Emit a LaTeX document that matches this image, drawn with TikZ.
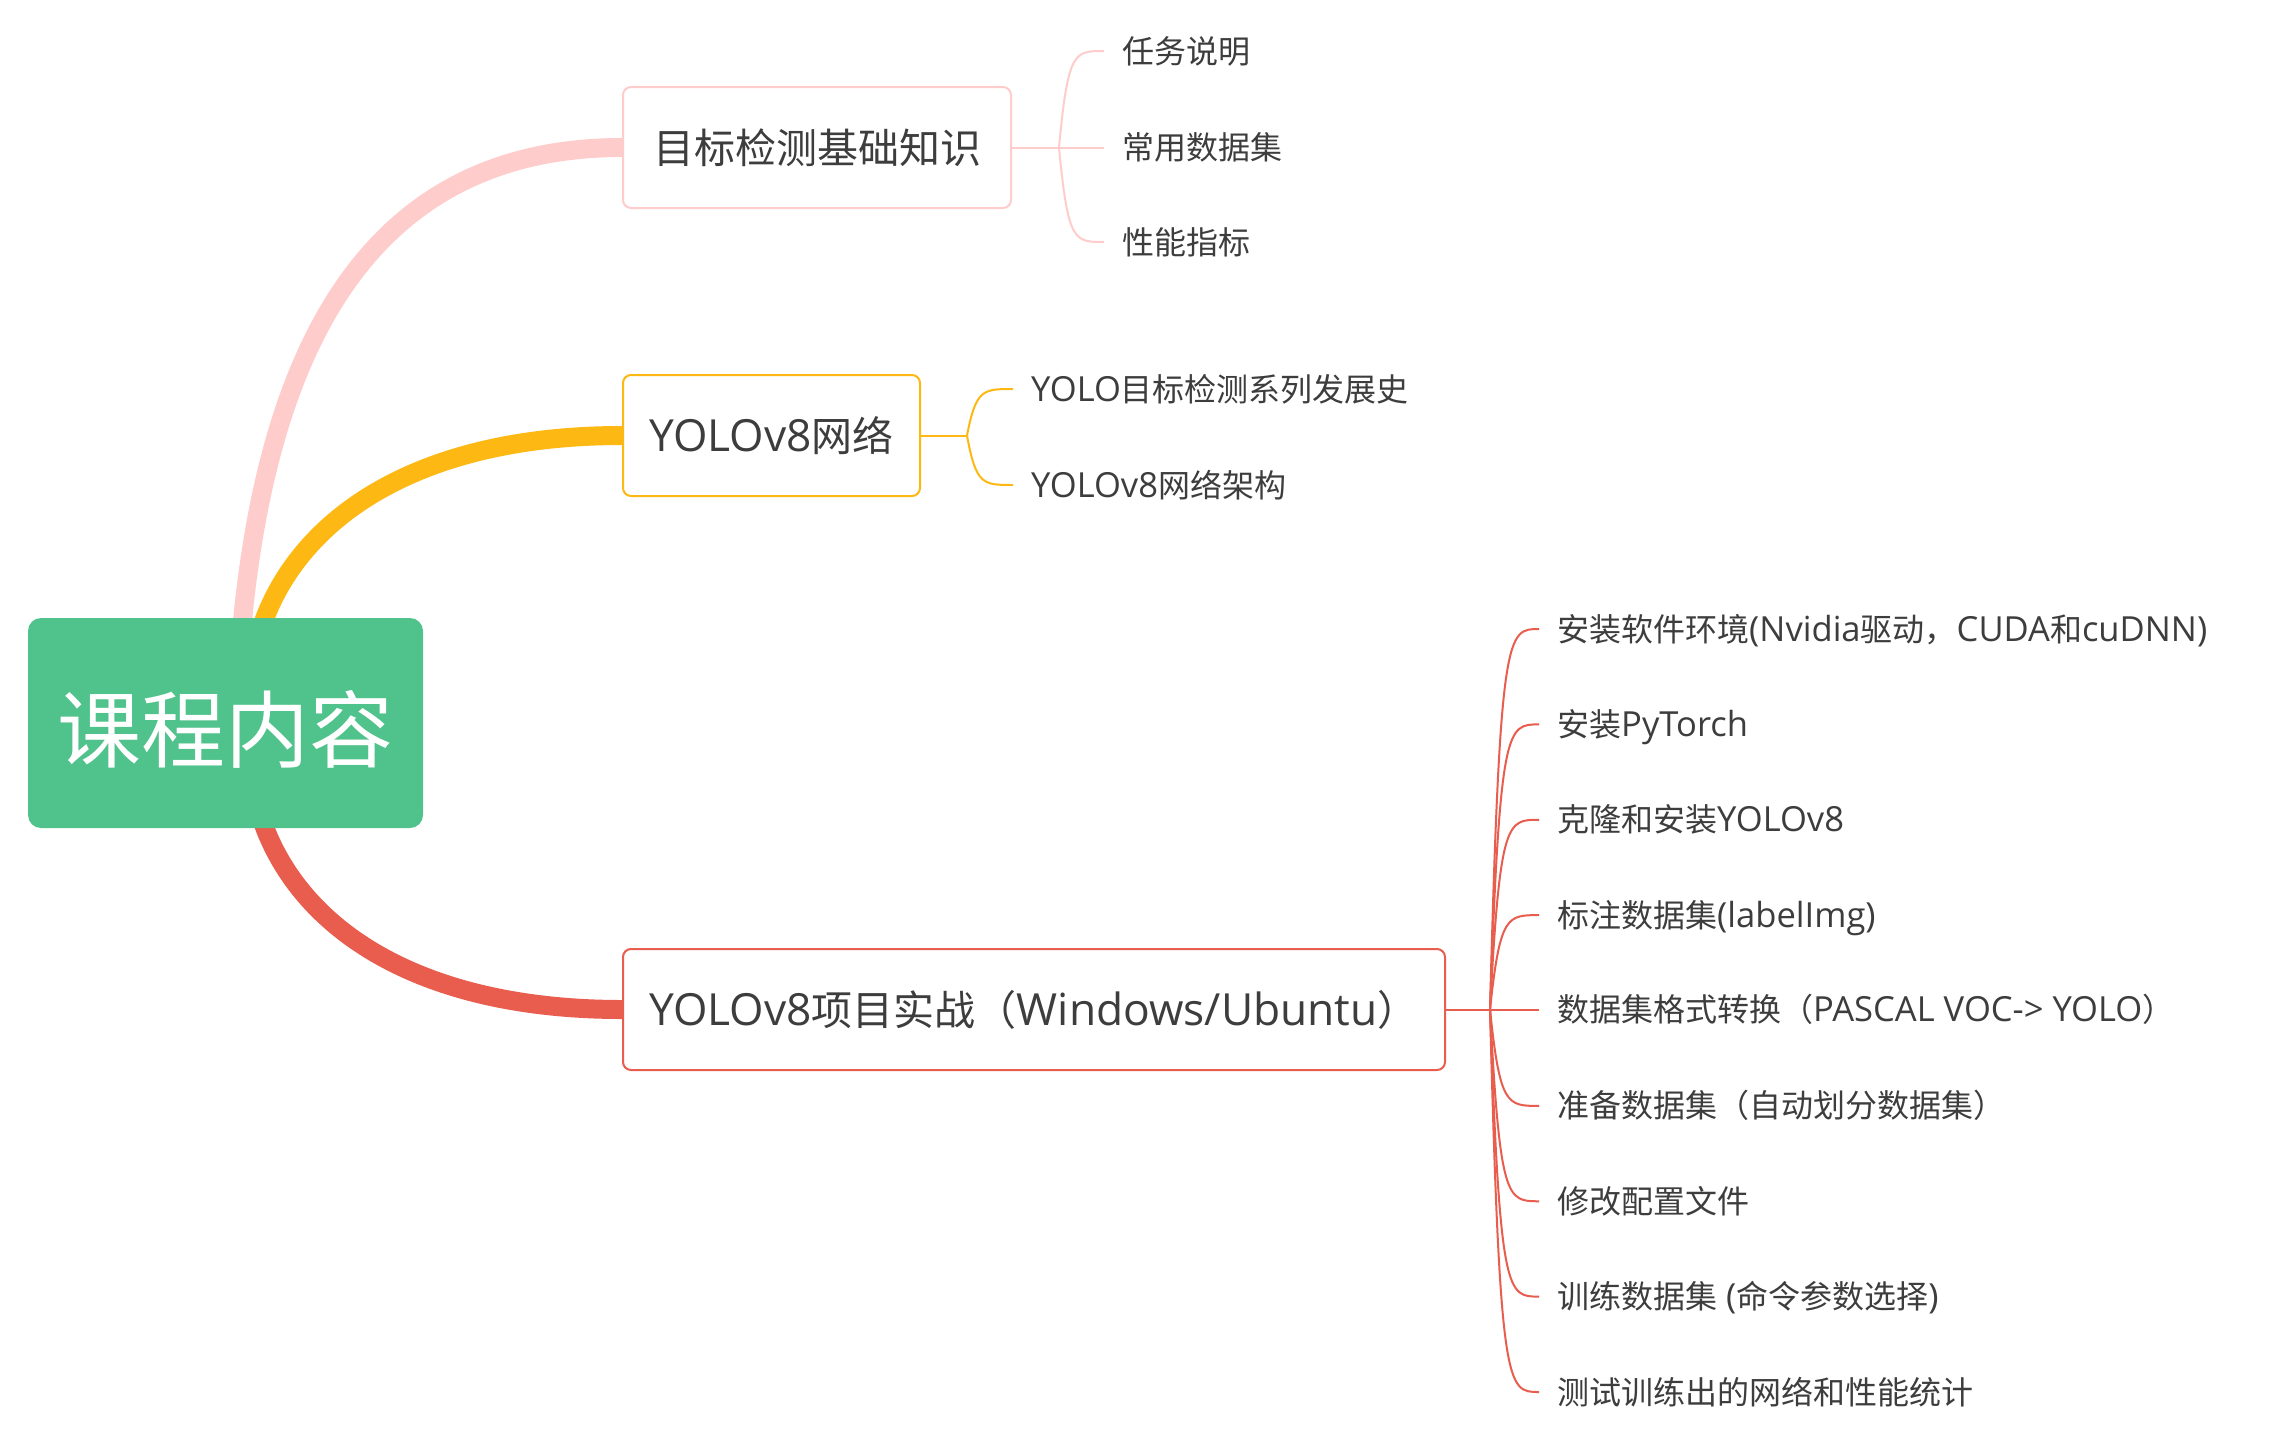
\documentclass[tikz,border=0pt]{standalone}
\usepackage{fontspec}
\setmainfont{Noto Sans CJK SC}
\newfontfamily\lat[Scale=1.08]{Open Sans}
\usetikzlibrary{calc,backgrounds}
\definecolor{rootgreen}{HTML}{50C28B}
\definecolor{cpink}{HTML}{FFCCCC}
\definecolor{corange}{HTML}{FDB813}
\definecolor{cred}{HTML}{E85D4D}
\definecolor{txt}{HTML}{3D3D3D}
\tikzset{
  rootbox/.style={fill=rootgreen, rounded corners=13pt, inner sep=0pt,
    minimum width=395pt, minimum height=210pt, text=white,
    font=\fontsize{84}{96}\selectfont, text height=78pt, text depth=1pt},
  topicbox/.style={draw, line width=2pt, fill=white, rounded corners=8pt, inner sep=0pt,
    minimum height=121pt, text=txt,
    font=\fontsize{41}{48}\selectfont, text height=33pt, text depth=2pt},
  leaf/.style={anchor=west, inner xsep=18pt, inner ysep=0pt, text=txt,
    font=\fontsize{32}{38}\selectfont, text height=25pt, text depth=1pt},
  thickline/.style={line width=19pt, line cap=butt},
  twig/.style={line width=2pt},
}
\begin{document}
\begin{tikzpicture}[x=1pt,y=-1pt]
\useasboundingbox (0,0) rectangle (2277,1440);

% root
\node[rootbox] (root) at (225.5,723) {课程内容};

% topic boxes
\node[topicbox, draw=cpink, minimum width=388pt] (b1) at (817,147.5) {目标检测基础知识};
\node[topicbox, draw=corange, minimum width=297pt] (b2) at (771.5,435.5) {{\lat YOLOv8}网络};
\node[topicbox, draw=cred, minimum width=822pt] (b3) at (1034,1009.5) {{\lat YOLOv8}项目实战（{\lat Windows/Ubuntu}）};

% junctions
\coordinate (j1) at (1059,147.5);
\coordinate (j2) at (967,435.5);
\coordinate (j3) at (1490,1009.5);

% leaves of b1
\node[leaf] (l11) at (1104,51) {任务说明};
\node[leaf] (l12) at (1104,147.5) {常用数据集};
\node[leaf] (l13) at (1104,242) {性能指标};

% leaves of b2
\node[leaf] (l21) at (1013,389) {{\lat YOLO}目标检测系列发展史};
\node[leaf] (l22) at (1013,485) {{\lat YOLOv8}网络架构};

% leaves of b3
\node[leaf] (l31) at (1539,629) {安装软件环境{\lat (Nvidia}驱动，{\lat CUDA}和{\lat cuDNN)}};
\node[leaf] (l32) at (1539,724.4) {安装{\lat PyTorch}};
\node[leaf] (l33) at (1539,819.75) {克隆和安装{\lat YOLOv8}};
\node[leaf] (l34) at (1539,915.1) {标注数据集{\lat (labelImg)}};
\node[leaf] (l35) at (1539,1009.5) {数据集格式转换（{\lat PASCAL VOC-> YOLO}）};
\node[leaf] (l36) at (1539,1105.9) {准备数据集（自动划分数据集）};
\node[leaf] (l37) at (1539,1201.25) {修改配置文件};
\node[leaf] (l38) at (1539,1296.6) {训练数据集{\lat\ (}命令参数选择{\lat )}};
\node[leaf] (l39) at (1539,1392) {测试训练出的网络和性能统计};

% thick main branches (behind the boxes)
\begin{scope}[on background layer]
  \fill[white] (0,0) rectangle (2277,1440);
  \draw[thickline, cpink] ([xshift=16.5pt,yshift=-8pt]root.north) .. controls (270,330) and (380,147.5) .. (b1.west);
  \draw[thickline, corange] ([xshift=36.5pt,yshift=-8pt]root.north) .. controls (300,516) and (420,435.5) .. (b2.west);
  \draw[thickline, cred] ([xshift=36.5pt,yshift=8pt]root.south) .. controls (300,930) and (420,1009.5) .. (b3.west);
\end{scope}

% twigs
\draw[twig, cpink] (b1.east) -- (j1);
\foreach \l in {l11,l12,l13}
  \draw[twig, cpink] (j1) .. controls ($(j1 |- \l.west)+(9,0)$) and ($(\l.west)+(-30,0)$) .. (\l.west);
\draw[twig, corange] (b2.east) -- (j2);
\foreach \l in {l21,l22}
  \draw[twig, corange] (j2) .. controls ($(j2 |- \l.west)+(9,0)$) and ($(\l.west)+(-30,0)$) .. (\l.west);
\draw[twig, cred] (b3.east) -- (j3);
\foreach \l in {l31,l32,l33,l34,l35,l36,l37,l38,l39}
  \draw[twig, cred] (j3) .. controls ($(j3 |- \l.west)+(10,0)$) and ($(\l.west)+(-32,0)$) .. (\l.west);
\end{tikzpicture}
\end{document}
